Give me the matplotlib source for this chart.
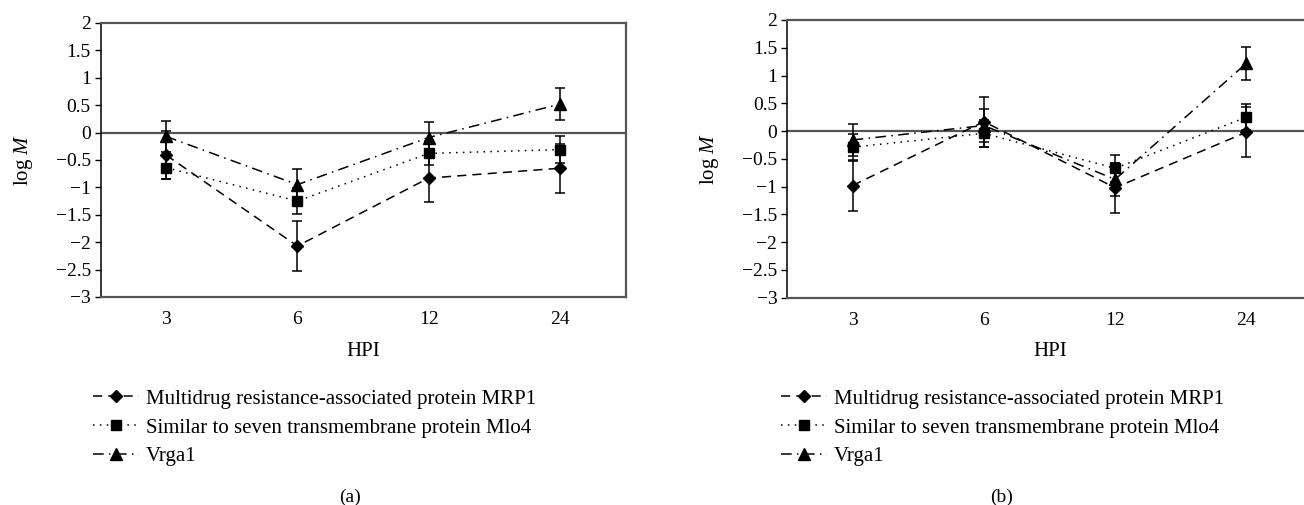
import matplotlib
matplotlib.use("Agg")
import matplotlib.pyplot as plt
import numpy as np

plt.rcParams['font.family'] = ['Liberation Serif', 'DejaVu Serif']
plt.rcParams['mathtext.fontset'] = 'custom'
plt.rcParams['mathtext.it'] = 'Liberation Serif:italic'
plt.rcParams['mathtext.rm'] = 'Liberation Serif'

hpi = ['3', '6', '12', '24']
names = ['Multidrug resistance-associated protein MRP1',
         'Similar to seven transmembrane protein Mlo4',
         'Vrga1']

# panel (a)
mrp1_a = [-0.41, -2.07, -0.83, -0.65]
mrp1_a_err = [0.44, 0.45, 0.44, 0.45]
mlo4_a = [-0.64, -1.25, -0.38, -0.31]
mlo4_a_err = [0.21, 0.23, 0.22, 0.25]
vrga1_a = [-0.07, -0.95, -0.09, 0.52]
vrga1_a_err = [0.29, 0.29, 0.29, 0.29]

# panel (b)
mrp1_b = [-0.98, 0.17, -1.02, -0.02]
mrp1_b_err = [0.45, 0.45, 0.45, 0.45]
mlo4_b = [-0.29, -0.04, -0.67, 0.25]
mlo4_b_err = [0.23, 0.24, 0.24, 0.23]
vrga1_b = [-0.16, 0.10, -0.87, 1.22]
vrga1_b_err = [0.29, 0.29, 0.29, 0.30]

styles = [dict(marker='D', ms=6.5, dashes=(6, 4)),
          dict(marker='s', ms=6.5, dashes=(1, 3.5)),
          dict(marker='^', ms=8, dashes=(7, 3.5, 1, 3.5))]

W, H = 1304, 505
fig = plt.figure(figsize=(W / 100, H / 100), dpi=100)


def px_axes(x0, x1, ytop, ybot):
    return fig.add_axes([x0 / W, 1 - ybot / H, (x1 - x0) / W, (ybot - ytop) / H])


def draw_panel(ax, series, errs):
    x = np.arange(1, len(hpi) + 1)
    ax.axhline(0, color='#555555', lw=1.6, zorder=1)
    handles = []
    for y, e, st in zip(series, errs, styles):
        ax.errorbar(x, y, yerr=e, fmt='none', ecolor='black', elinewidth=1.1,
                    capsize=3.5, capthick=1.1, zorder=2)
        h, = ax.plot(x, y, color='black', lw=1.1, marker=st['marker'],
                     ms=st['ms'], dashes=st['dashes'], zorder=3)
        handles.append(h)
    ax.set_xlim(0.5, 4.5)
    ax.set_ylim(-3, 2)
    yt = np.arange(-3, 2.01, 0.5)
    ax.set_yticks(yt)
    ax.set_yticklabels(['{:g}'.format(v).replace('-', '\u2212') for v in yt])
    ax.set_xticks(x)
    ax.set_xticklabels(hpi)
    ax.tick_params(axis='x', length=0, pad=10, labelsize=14)
    ax.tick_params(axis='y', length=4, width=1, direction='out', pad=3, labelsize=14)
    for s in ['top', 'right', 'bottom']:
        ax.spines[s].set_color('#555555')
        ax.spines[s].set_linewidth(1.6)
    ax.spines['left'].set_color('black')
    ax.spines['left'].set_linewidth(1.1)
    ax.set_ylabel(r'log $\mathit{M}$', fontsize=15, labelpad=15)
    return handles


ax_a = px_axes(100.5, 625.5, 23, 297)
h_a = draw_panel(ax_a, [mrp1_a, mlo4_a, vrga1_a], [mrp1_a_err, mlo4_a_err, vrga1_a_err])
ax_b = px_axes(787, 1312, 20, 297.7)
h_b = draw_panel(ax_b, [mrp1_b, mlo4_b, vrga1_b], [mrp1_b_err, mlo4_b_err, vrga1_b_err])

for h, lx, cx, tag, tx in [(h_a, 93, 363, '(a)', 350), (h_b, 781, 1050, '(b)', 1002)]:
    fig.text(cx / W, 1 - 352 / H, 'HPI', ha='center', va='center', fontsize=15)
    fig.text(tx / W, 1 - 497 / H, tag, ha='center', va='center', fontsize=14)
    fig.legend(h, names, loc='upper left', bbox_to_anchor=(lx / W, 1 - 389 / H),
               frameon=False, fontsize=15, handlelength=2.2, handletextpad=0.35,
               labelspacing=0.45, borderaxespad=0, borderpad=0)

fig.savefig('out.png', dpi=100)
